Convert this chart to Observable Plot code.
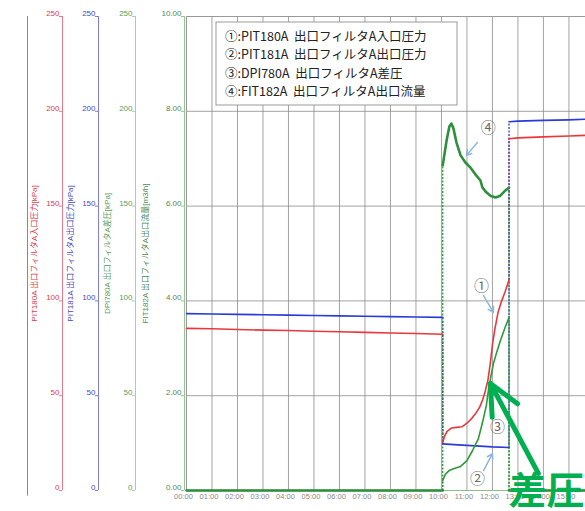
<!DOCTYPE html>
<html><head><meta charset="utf-8">
<script src="https://cdn.jsdelivr.net/npm/d3@7"></script>
<script src="https://cdn.jsdelivr.net/npm/@observablehq/plot@0.6"></script>
<style>
body{margin:0;background:#fff}
#chart svg{overflow:visible}
</style>
</head><body><div id="chart"></div>
<script>
// ---- data ----
const hours = [0,1,2,3,4,5,6,7,8,9,10,11,12,13,14,15];
const hourLabels = ["00:00","01:00","02:00","03:00","04:00","05:00","06:00","07:00","08:00","09:00","10:00","11:00","12:00","13:00","14:00","15:00"];
const flowTicks = [0,2,4,6,8,10];
const flowTickLabels = ["0.00","2.00","4.00","6.00","8.00","10.00"];
const kpaTickLabels = ["0","50","100","150","200","250"];
const gridLevels = [2,4,6,8];

const axisTitles = [
  "PIT180A 出口フィルタA入口圧力[kPa]",
  "PIT181A 出口フィルタA出口圧力[kPa]",
  "DPI780A 出口フィルタA差圧[kPa]",
  "FIT182A 出口フィルタA出口流量[m3/h]"
];
const legendLabels = [
  "①:PIT180A  出口フィルタA入口圧力",
  "②:PIT181A  出口フィルタA出口圧力",
  "③:DPI780A  出口フィルタA差圧",
  "④:FIT182A  出口フィルタA出口流量"
];

// [hour, value] segments; PIT/DPI in kPa, FIT in m3/h
const pit180a = [
  [[0,85.5],[1,85.3],[2,84.9],[3,84.6],[4,84.4],[5,84.0],[6,83.7],[7,83.4],[8,83.1],[9,82.8],[10.05,82.4]],
  [[10.05,25.3],[10.12,28.5],[10.22,31.2],[10.4,33.0],[10.6,33.3],[10.8,33.6],[11.0,35.5],[11.2,38.2],[11.35,40.8],[11.5,44.0],[11.62,48.0],[11.72,52.5],[11.82,58.0],[11.92,67.5],[12.0,77.0],[12.1,85.5],[12.22,94.0],[12.35,99.5],[12.5,105.0],[12.65,111.0]],
  [[12.65,185.5],[13,186.0],[14,186.5],[15,187.0],[15.65,187.3]]
];
const pit181a = [
  [[0,93.3],[1,93.1],[2,92.9],[3,92.7],[4,92.5],[5,92.3],[6,92.1],[7,91.9],[8,91.7],[9,91.5],[10.05,91.3]],
  [[10.05,24.6],[10.5,24.2],[11,23.8],[11.5,23.4],[12,23.0],[12.65,22.7]],
  [[12.65,194.5],[13,194.8],[14,195.2],[15,195.5],[15.65,195.8]]
];
const dpi780a = [
  [[0,0],[10.05,0]],
  [[10.05,5.3],[10.15,8.5],[10.3,10.5],[10.5,11.6],[10.75,12.7],[11.0,15.8],[11.22,21.1],[11.45,27.4],[11.6,35.3],[11.76,44.8],[11.84,52.7],[11.95,61.0],[12.04,67.0],[12.18,73.5],[12.31,79.0],[12.51,86.5],[12.65,91.2]],
  [[12.65,0],[15.65,0]]
];
const fit182a = [
  [[0,0],[10.05,0]],
  [[10.05,6.86],[10.2,7.38],[10.31,7.68],[10.39,7.74],[10.47,7.64],[10.59,7.34],[10.75,7.07],[10.94,6.92],[11.14,6.81],[11.33,6.67],[11.53,6.54],[11.61,6.39],[11.76,6.29],[11.92,6.22],[12.12,6.18],[12.31,6.22],[12.51,6.33],[12.65,6.39]],
  [[12.65,0],[15.65,0]]
];

// annotations (hour, flow-scale value)
const calloutLabels = ["①","②","③","④"];
const calloutAt = [[11.57,4.32],[11.41,0.23],[12.2,1.33],[11.84,7.64]];
const calloutArrows = [[11.65,4.11,12.04,3.76],[11.65,0.42,12.0,0.78],[11.41,7.34,10.98,7.07]];
const bigArrow = [[13.8,0.36,11.92,2.26]];
const bigLabel = [["差圧",14.12,-0.28]];

// ---- build ----
const seriesDefs = [
  {data: pit180a, k: 1/25, color: "#e8383d", width: 1.6},
  {data: pit181a, k: 1/25, color: "#2b3bd6", width: 1.6},
  {data: dpi780a, k: 1/25, color: "#2e9a3a", width: 1.6},
  {data: fit182a, k: 1, color: "#2f8f3f", width: 2.6}
];
const rows = [], jumps = [];
seriesDefs.forEach((s, si) => {
  s.data.forEach((seg, gi) => {
    seg.forEach(([t, v]) => rows.push({si, key: si + "-" + gi, t, y: v * s.k}));
    if (gi > 0) {
      const prev = s.data[gi - 1][s.data[gi - 1].length - 1];
      jumps.push({si, x1: prev[0], y1: prev[1] * s.k, x2: seg[0][0], y2: seg[0][1] * s.k});
    }
  });
});

const axes = [
  {dx: -124, line: "#e27c8c", text: "#d8404e", titleDx: -152, labels: kpaTickLabels},
  {dx: -88, line: "#7e7ed6", text: "#4a4ab8", titleDx: -116, labels: kpaTickLabels},
  {dx: -51, line: "#a9cfa9", text: "#5a9e5a", titleDx: -79, labels: kpaTickLabels},
  {dx: -2, line: "#92c492", text: "#4f8a55", titleDx: -41, labels: flowTickLabels}
];

const marks = [];
marks.push(Plot.ruleX([0], {dx: -159, y1: -0.12, y2: 10, stroke: "#8a8a8a"}));
marks.push(Plot.gridX({ticks: hours.slice(1), stroke: "#8c8c8c", strokeOpacity: 0.8}));
marks.push(Plot.gridY({ticks: gridLevels, stroke: "#8c8c8c", strokeOpacity: 0.8}));
marks.push(Plot.ruleY([10], {stroke: "#999"}));
marks.push(Plot.ruleX([0], {stroke: "#999"}));
marks.push(Plot.ruleY([0], {stroke: "#8cbf8c"}));
axes.forEach((a, ai) => {
  marks.push(Plot.ruleX([0], {dx: a.dx, y1: 0, y2: 10, stroke: a.line}));
  marks.push(Plot.axisY({anchor: "left", ticks: flowTicks, tickFormat: () => "", tickSize: 3, dx: a.dx, stroke: a.line, label: null}));
  marks.push(Plot.axisY({anchor: "left", ticks: flowTicks, tickFormat: d => a.labels[flowTicks.indexOf(d)], tickSize: 0, tickPadding: 3, dx: a.dx, dy: -3, fill: a.text, fontSize: 8, label: null}));
  marks.push(Plot.text([axisTitles[ai]], {frameAnchor: "left", dx: a.titleDx, rotate: -90, text: d => d, fill: a.text, fontSize: 8, textAnchor: "middle"}));
});
marks.push(Plot.axisX({anchor: "bottom", ticks: hours, tickFormat: d => hourLabels[hours.indexOf(d)], tickSize: 0, tickPadding: 3, dx: -3, fill: "#8a8a8a", fontSize: 7.5, label: null}));
marks.push(Plot.link(jumps, {x1: "x1", y1: "y1", x2: "x2", y2: "y2", stroke: d => seriesDefs[d.si].color, strokeDasharray: "2,1.5", strokeWidth: 1.3}));
seriesDefs.forEach((s, si) => {
  marks.push(Plot.line(rows.filter(r => r.si === si), {x: "t", y: "y", z: "key", stroke: s.color, strokeWidth: s.width, curve: "linear"}));
});
marks.push(Plot.arrow(calloutArrows, {x1: d => d[0], y1: d => d[1], x2: d => d[2], y2: d => d[3], stroke: "#8fb6de", strokeWidth: 1.5, headLength: 6}));
marks.push(Plot.text(calloutLabels, {x: (d, i) => calloutAt[i][0], y: (d, i) => calloutAt[i][1], text: d => d, fontSize: 15, fill: "#6a6a6a", fontFamily: "Noto Sans CJK JP"}));
marks.push(Plot.arrow(bigArrow, {x1: d => d[0], y1: d => d[1], x2: d => d[2], y2: d => d[3], stroke: "#00b050", strokeWidth: 5, headLength: 22, headAngle: 50}));
marks.push(Plot.text(bigLabel, {x: d => d[1], y: d => d[2], text: d => d[0], fontSize: 38, fontWeight: "bold", fill: "#00b050", fontFamily: "Noto Sans CJK JP", lineAnchor: "bottom", textAnchor: "middle"}));

const svg = Plot.plot({
  width: 585, height: 511,
  marginLeft: 186, marginRight: 0, marginTop: 16, marginBottom: 21,
  x: {domain: [0, 15.65], axis: null},
  y: {domain: [0, 10], axis: null},
  style: {fontFamily: "'Liberation Sans', 'Noto Sans CJK JP', sans-serif", background: "white", overflow: "visible"},
  marks
});
document.getElementById("chart").append(svg);

// legend box
const lg = d3.select(svg).append("g").attr("text-anchor", "start");
lg.append("rect").attr("x", 216).attr("y", 22).attr("width", 241).attr("height", 83)
  .attr("fill", "white").attr("stroke", "#9a9a9a");
legendLabels.forEach((t, i) => {
  lg.append("text").attr("x", 225).attr("y", 40.5 + i * 18.6)
    .attr("text-anchor", "start")
    .attr("font-family", "'Noto Sans CJK JP', sans-serif").attr("font-size", 12.5)
    .attr("fill", "#222").text(t);
});
</script>
</body></html>
